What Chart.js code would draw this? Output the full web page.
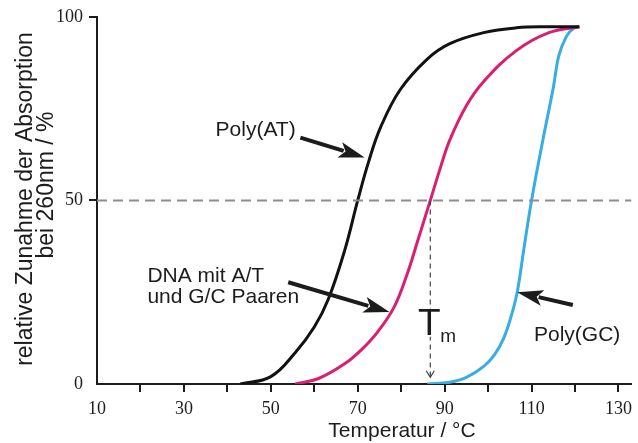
<!DOCTYPE html>
<html>
<head>
<meta charset="utf-8">
<script src="https://cdn.jsdelivr.net/npm/chart.js@4.4.1/dist/chart.umd.min.js"></script>
<style>
    html, body { margin: 0; padding: 0; background: #fff; }
    canvas { display: block; }
</style>
</head>
<body>
<canvas id="meltChart" width="638" height="443"></canvas>
<script>
// Schmelzkurven
const atTemp = [43, 50, 55.6, 60, 63.2, 67, 70, 72.5, 75.3, 79.8, 86, 91.2, 99, 106.5, 114, 121];
const atAbs = [0, 2, 8.5, 15.5, 23, 36.4, 50, 60.5, 70, 80.2, 88.5, 92.7, 95.7, 97, 97.3, 97.3];

const dnaTemp = [55.6, 61, 67, 71, 74.6, 78.4, 81.4, 83.7, 86.7, 89, 91.2, 95.1, 99, 106.5, 114, 121];
const dnaAbs = [0, 1.5, 5.5, 9.5, 14.2, 21, 30, 38.6, 50, 58.8, 66.5, 76, 82.4, 90.8, 95.7, 97.3];

const gcTemp = [86, 91.2, 95, 99, 101.5, 103.5, 105.2, 106.7, 108.2, 110, 112.7, 115, 116.3, 118, 119.5, 121];
const gcAbs = [0, 0.5, 1.8, 4.8, 8, 12.2, 18, 25, 36.5, 50, 67, 80.7, 89.5, 94.6, 96.7, 97.3];

const halfLevel = 50;
const tmTemp = 86.7;

const xTicks = [10, 20, 30, 40, 50, 60, 70, 80, 90, 100, 110, 120, 130];
const xLabels = [10, 30, 50, 70, 90, 110, 130];
const yTicks = [0, 50, 100];

const sans = '"Liberation Sans", Arial, sans-serif';
const serif = '"Liberation Serif", "Times New Roman", serif';
const ink = '#1c1c1c';

function points(xs, ys) {
    return xs.map((x, i) => ({ x: x, y: ys[i] }));
}

function curve(xs, ys, color) {
    return {
        data: points(xs, ys),
        borderColor: color,
        borderWidth: 3,
        showLine: true,
        pointRadius: 0,
        tension: 0.4
    };
}

// filled arrow head like in the Lehrbuch figure
function arrow(ctx, x1, y1, x2, y2) {
    const ang = Math.atan2(y2 - y1, x2 - x1);
    const headLen = 26, headHalf = 8;
    const bx = x2 - Math.cos(ang) * headLen;
    const by = y2 - Math.sin(ang) * headLen;
    ctx.save();
    ctx.strokeStyle = ink;
    ctx.fillStyle = ink;
    ctx.lineWidth = 4;
    ctx.beginPath();
    ctx.moveTo(x1, y1);
    ctx.lineTo(bx + Math.cos(ang) * 4, by + Math.sin(ang) * 4);
    ctx.stroke();
    ctx.beginPath();
    ctx.moveTo(x2, y2);
    ctx.lineTo(bx - Math.sin(ang) * headHalf, by + Math.cos(ang) * headHalf);
    ctx.lineTo(bx + Math.cos(ang) * 6, by + Math.sin(ang) * 6);
    ctx.lineTo(bx + Math.sin(ang) * headHalf, by - Math.cos(ang) * headHalf);
    ctx.closePath();
    ctx.fill();
    ctx.restore();
}

const annotations = {
    id: 'annotations',
    afterDatasetsDraw(chart) {
        const ctx = chart.ctx;
        const xs = chart.scales.x, ys = chart.scales.y;
        const px = v => xs.getPixelForValue(v);
        const py = v => ys.getPixelForValue(v);

        ctx.save();
        ctx.fillStyle = ink;

        // labels
        ctx.font = '21px ' + sans;
        ctx.textAlign = 'center';
        ctx.textBaseline = 'alphabetic';
        ctx.fillText('Poly(AT)', px(46.5), py(67.5));
        ctx.fillText('Poly(GC)', px(120.5), py(11.7));
        ctx.textAlign = 'left';
        ctx.fillText('DNA mit A/T', px(21.6), py(27.7));
        ctx.fillText('und G/C Paaren', px(21.6), py(22.0));

        arrow(ctx, px(56.8), py(67.1), px(71.6), py(61.7));
        arrow(ctx, px(54.0), py(27.7), px(77.3), py(19.6));
        arrow(ctx, px(119.5), py(21.5), px(106.7), py(25.0));

        // Tm: gestrichelter Pfeil nach unten
        const tx = px(tmTemp);
        ctx.strokeStyle = '#444';
        ctx.lineWidth = 1.2;
        ctx.setLineDash([5, 4]);
        ctx.beginPath();
        ctx.moveTo(tx, py(halfLevel));
        ctx.lineTo(tx, py(1.8));
        ctx.stroke();
        ctx.setLineDash([]);
        ctx.beginPath();
        ctx.moveTo(tx - 4, py(3.6));
        ctx.lineTo(tx, py(1.8));
        ctx.lineTo(tx + 4, py(3.6));
        ctx.stroke();

        ctx.fillStyle = '#fff';
        ctx.fillRect(tx - 13, py(20.5), 26, 28);
        ctx.fillStyle = ink;
        ctx.font = '37px ' + sans;
        ctx.textAlign = 'center';
        ctx.fillText('T', tx - 1, py(13.3));
        ctx.font = '19px ' + sans;
        ctx.textAlign = 'left';
        ctx.fillText('m', tx + 10, py(11.4));

        // axis titles
        ctx.font = '21px ' + sans;
        ctx.textAlign = 'center';
        ctx.fillText('Temperatur / °C', 402, 437);

        ctx.font = '23px ' + sans;
        ctx.textBaseline = 'middle';
        ctx.translate(26, 199);
        ctx.rotate(-Math.PI / 2);
        ctx.fillText('relative Zunahme der Absorption', 0, 0);
        ctx.rotate(Math.PI / 2);
        ctx.translate(21, -14);
        ctx.rotate(-Math.PI / 2);
        ctx.fillText('bei 260nm / %', 0, 0);
        ctx.restore();
    }
};

const tickColor = c => (c.tick && (c.tick.value === 10 || c.tick.value === 0)) ? 'rgba(0,0,0,0)' : ink;

new Chart(document.getElementById('meltChart'), {
    type: 'scatter',
    data: {
        datasets: [
            {
                data: [{ x: 10, y: halfLevel }, { x: 133, y: halfLevel }],
                borderColor: '#8c8c8c',
                borderWidth: 2,
                borderDash: [10, 6],
                showLine: true,
                pointRadius: 0
            },
            curve(atTemp, atAbs, '#121212'),
            curve(dnaTemp, dnaAbs, '#d91f72'),
            curve(gcTemp, gcAbs, '#38ade2')
        ]
    },
    options: {
        responsive: false,
        animation: false,
        layout: { padding: { top: 16, right: 2, left: 0, bottom: 0 } },
        plugins: {
            legend: { display: false },
            tooltip: { enabled: false }
        },
        scales: {
            x: {
                type: 'linear',
                min: 10,
                max: 133,
                afterBuildTicks: s => { s.ticks = xTicks.map(v => ({ value: v })); },
                afterFit: s => { s.height = 59; },
                ticks: {
                    autoSkip: false,
                    maxRotation: 0,
                    padding: 6,
                    color: ink,
                    font: { family: serif, size: 18 },
                    callback: v => xLabels.includes(v) ? String(v) : ''
                },
                grid: { drawOnChartArea: false, tickLength: 8, lineWidth: 2, color: tickColor },
                border: { color: ink, width: 2 }
            },
            y: {
                min: 0,
                max: 100,
                afterBuildTicks: s => { s.ticks = yTicks.map(v => ({ value: v })); },
                afterFit: s => { s.width = 97; },
                ticks: {
                    padding: 6,
                    color: ink,
                    font: { family: serif, size: 18 }
                },
                grid: { drawOnChartArea: false, tickLength: 8, lineWidth: 2, color: tickColor },
                border: { color: ink, width: 2 }
            }
        }
    },
    plugins: [annotations]
});
</script>
</body>
</html>
